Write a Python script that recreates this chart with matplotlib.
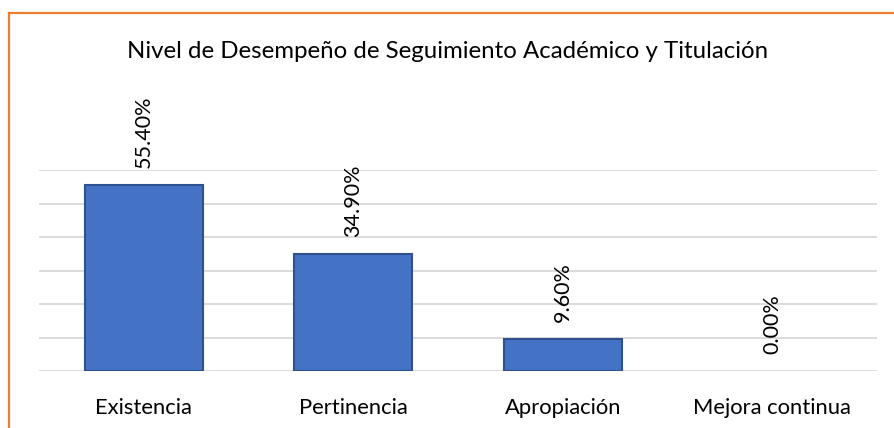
import matplotlib
matplotlib.use("Agg")
import matplotlib.pyplot as plt
from matplotlib.lines import Line2D
import numpy as np

categories = ["Existencia", "Pertinencia", "Apropiación", "Mejora continua"]
values = [55.4, 34.9, 9.6, 0.0]
title = "Nivel de Desempeño de Seguimiento Académico y Titulación"

plt.rcParams["font.family"] = ["Lato", "DejaVu Sans"]

fig = plt.figure(figsize=(8.95, 4.28), dpi=100)
ax = fig.add_axes([0.0436, 0.1325, 0.9363, 0.4703])

x = np.arange(len(categories))
# no outline on an empty bar, so it does not show on the baseline
edge_widths = [1.5 if v > 0 else 0 for v in values]
ax.bar(x, values, width=0.563, color="#4472C4", edgecolor="#2F528F",
       linewidth=edge_widths, zorder=3)

for xi, v in zip(x, values):
    ax.annotate(f"{v:.2f}%", (xi, v), xytext=(0, 12.5), textcoords="offset points",
                rotation=90, ha="center", va="bottom", fontsize=15.5, color="#000000")

ax.set_xlim(-0.5, len(categories) - 0.5)
ax.set_ylim(0, 60)
ax.set_yticks(np.arange(0, 61, 10))
ax.set_yticklabels([])
ax.yaxis.grid(True, color="#D9D9D9", linewidth=1.3, zorder=0)
ax.tick_params(length=0)
ax.set_xticks(x)
ax.set_xticklabels(categories, fontsize=15.8, color="#000000")
ax.tick_params(axis="x", pad=19)
for s in ax.spines.values():
    s.set_visible(False)

fig.text(0.5, 1 - 52 / 428, title, ha="center", va="center", fontsize=17.3,
         color="#000000")

# orange frame (top and left edges)
fig.add_artist(Line2D([9.5 / 895, 1], [1 - 13 / 428, 1 - 13 / 428],
                      transform=fig.transFigure, color="#ED7D31", linewidth=1.6))
fig.add_artist(Line2D([9.5 / 895, 9.5 / 895], [0, 1 - 13 / 428],
                      transform=fig.transFigure, color="#ED7D31", linewidth=1.6))

fig.savefig("out.png", dpi=100)
